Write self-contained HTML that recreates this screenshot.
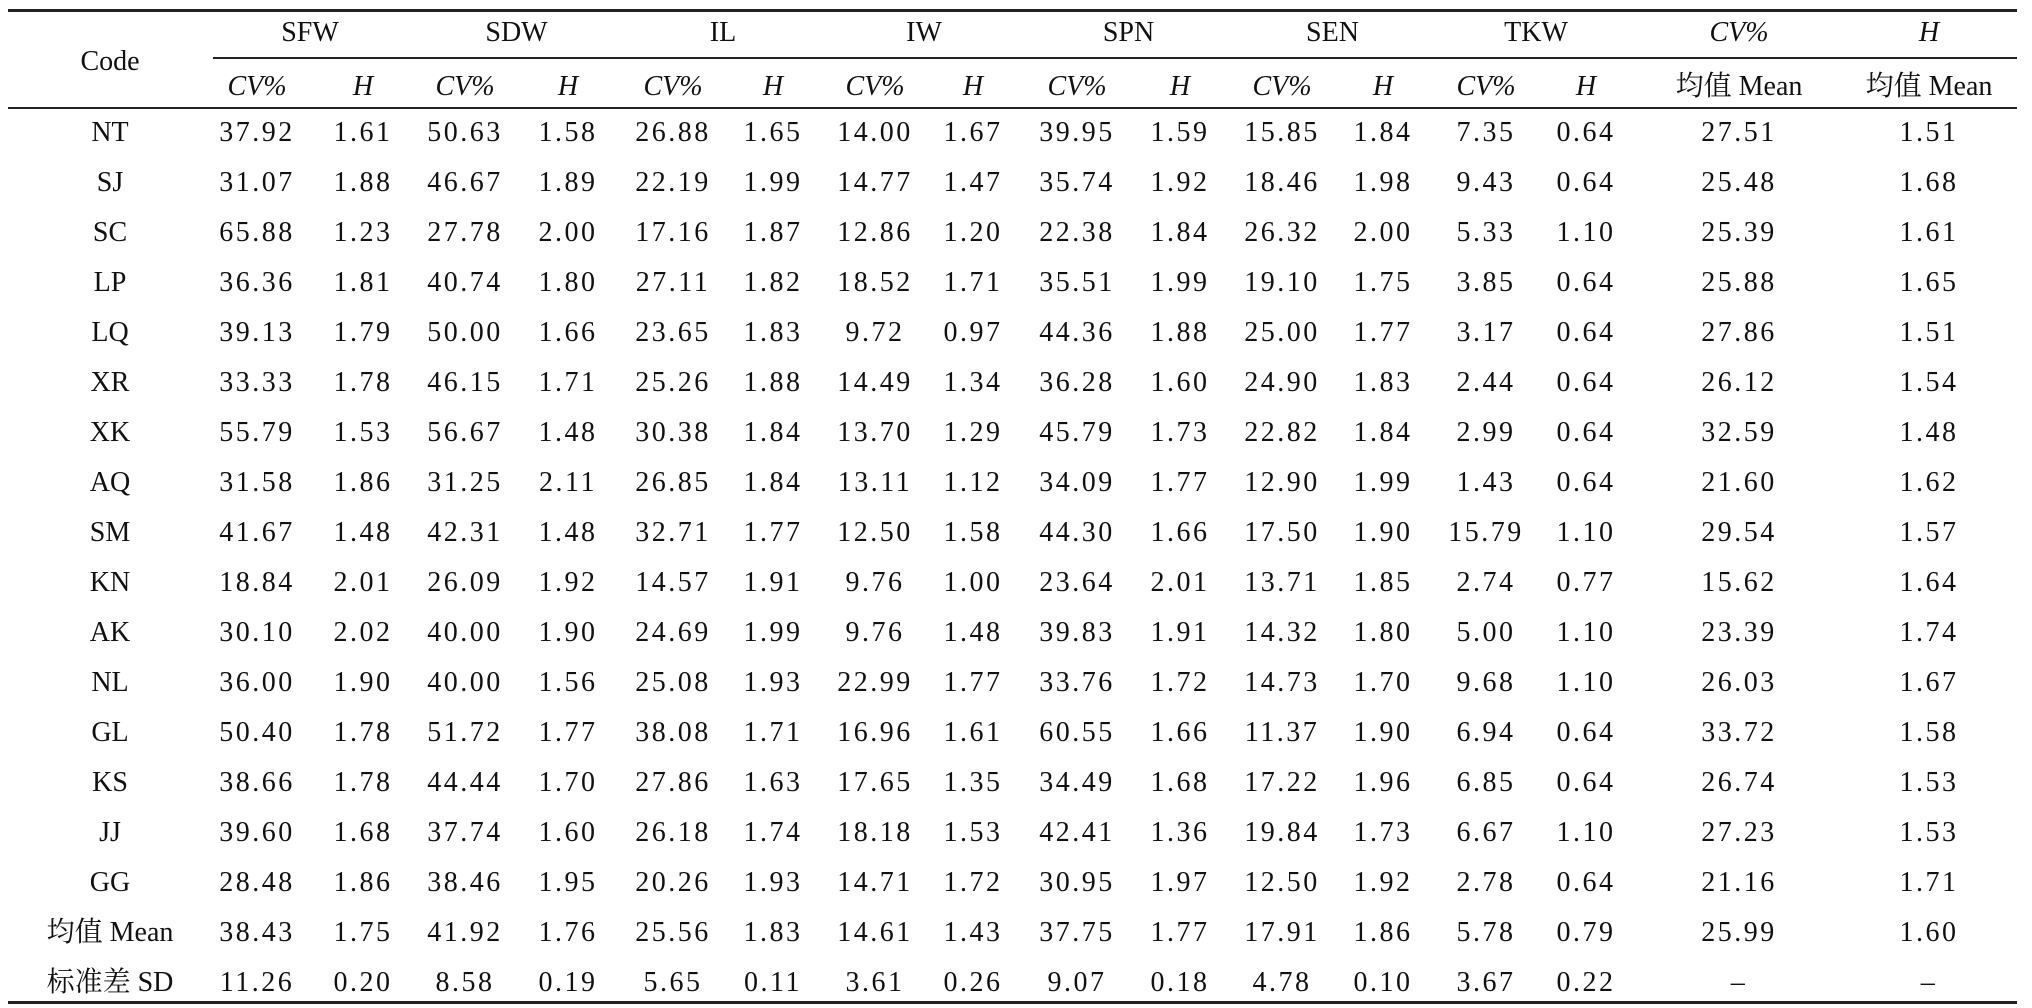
<!DOCTYPE html>
<html><head><meta charset="utf-8"><style>
html,body{margin:0;padding:0;background:#fff;}
#t{position:relative;width:2032px;height:1008px;overflow:hidden;font-family:"Liberation Serif","Noto Serif CJK SC",serif;color:#111;}
.c{position:absolute;transform:translate(-50%,-50%);white-space:nowrap;font-size:28px;line-height:1;}
.n{letter-spacing:2.5px;}
.i{font-style:italic;}
.ln{position:absolute;background:#222;}
</style></head><body>
<div id="t">
<div class="ln" style="left:8px;top:9px;width:2009px;height:3px"></div>
<div class="ln" style="left:213px;top:57px;width:1804px;height:2px"></div>
<div class="ln" style="left:8px;top:107px;width:2009px;height:2px"></div>
<div class="ln" style="left:8px;top:1001px;width:2009px;height:3px"></div>
</div>
<script>
const groups=["SFW","SDW","IL","IW","SPN","SEN","TKW"];
const codes=["NT","SJ","SC","LP","LQ","XR","XK","AQ","SM","KN","AK","NL","GL","KS","JJ","GG","均值 Mean","标准差 SD"];
const rows=[
["37.92","1.61","50.63","1.58","26.88","1.65","14.00","1.67","39.95","1.59","15.85","1.84","7.35","0.64","27.51","1.51"],
["31.07","1.88","46.67","1.89","22.19","1.99","14.77","1.47","35.74","1.92","18.46","1.98","9.43","0.64","25.48","1.68"],
["65.88","1.23","27.78","2.00","17.16","1.87","12.86","1.20","22.38","1.84","26.32","2.00","5.33","1.10","25.39","1.61"],
["36.36","1.81","40.74","1.80","27.11","1.82","18.52","1.71","35.51","1.99","19.10","1.75","3.85","0.64","25.88","1.65"],
["39.13","1.79","50.00","1.66","23.65","1.83","9.72","0.97","44.36","1.88","25.00","1.77","3.17","0.64","27.86","1.51"],
["33.33","1.78","46.15","1.71","25.26","1.88","14.49","1.34","36.28","1.60","24.90","1.83","2.44","0.64","26.12","1.54"],
["55.79","1.53","56.67","1.48","30.38","1.84","13.70","1.29","45.79","1.73","22.82","1.84","2.99","0.64","32.59","1.48"],
["31.58","1.86","31.25","2.11","26.85","1.84","13.11","1.12","34.09","1.77","12.90","1.99","1.43","0.64","21.60","1.62"],
["41.67","1.48","42.31","1.48","32.71","1.77","12.50","1.58","44.30","1.66","17.50","1.90","15.79","1.10","29.54","1.57"],
["18.84","2.01","26.09","1.92","14.57","1.91","9.76","1.00","23.64","2.01","13.71","1.85","2.74","0.77","15.62","1.64"],
["30.10","2.02","40.00","1.90","24.69","1.99","9.76","1.48","39.83","1.91","14.32","1.80","5.00","1.10","23.39","1.74"],
["36.00","1.90","40.00","1.56","25.08","1.93","22.99","1.77","33.76","1.72","14.73","1.70","9.68","1.10","26.03","1.67"],
["50.40","1.78","51.72","1.77","38.08","1.71","16.96","1.61","60.55","1.66","11.37","1.90","6.94","0.64","33.72","1.58"],
["38.66","1.78","44.44","1.70","27.86","1.63","17.65","1.35","34.49","1.68","17.22","1.96","6.85","0.64","26.74","1.53"],
["39.60","1.68","37.74","1.60","26.18","1.74","18.18","1.53","42.41","1.36","19.84","1.73","6.67","1.10","27.23","1.53"],
["28.48","1.86","38.46","1.95","20.26","1.93","14.71","1.72","30.95","1.97","12.50","1.92","2.78","0.64","21.16","1.71"],
["38.43","1.75","41.92","1.76","25.56","1.83","14.61","1.43","37.75","1.77","17.91","1.86","5.78","0.79","25.99","1.60"],
["11.26","0.20","8.58","0.19","5.65","0.11","3.61","0.26","9.07","0.18","4.78","0.10","3.67","0.22","–","–"]];
const colX=[257,363,465,568,673,773,875,973,1077,1180,1282,1383,1486,1586,1739,1929];
const t=document.getElementById('t');
function add(txt,x,y,cls){const d=document.createElement('div');d.className='c '+(cls||'');d.textContent=txt;d.style.left=x+'px';d.style.top=y+'px';t.appendChild(d);return d;}
let e=add('Code',110,62);


groups.forEach((g,i)=>{
 const h=add(g,(colX[2*i]+colX[2*i+1])/2,33);
 
 
 const a=add('CV%',colX[2*i],87,'i');
 
 
 const b=add('H',colX[2*i+1],87,'i');
 
 
});
e=add('CV%',1739,33,'i');


e=add('H',1929,33,'i');


e=add('均值 Mean',1739,87);


e=add('均值 Mean',1929,87);


codes.forEach((c,r)=>{
 const y=133+50*r;
 const cc=add(c,110,y);
 
 
 rows[r].forEach((v,k)=>{
  const d=add(v,colX[k],y,'n');
  
  
 });
});
</script>
</body></html>
